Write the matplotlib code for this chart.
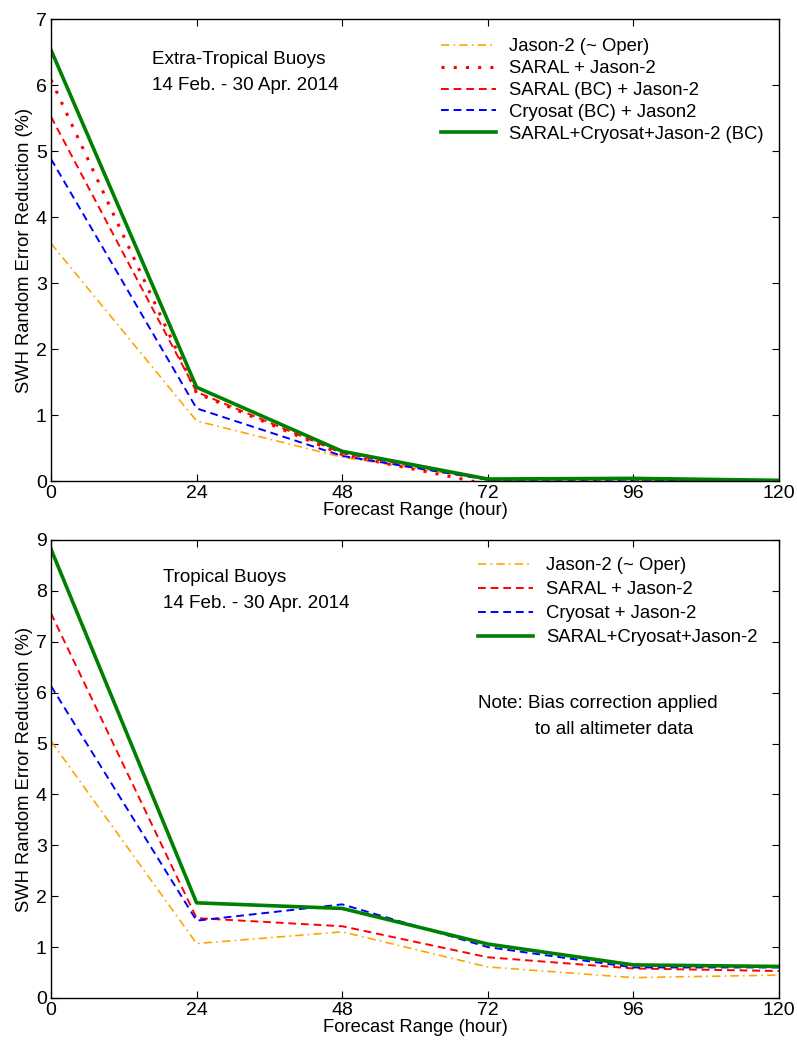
import matplotlib
matplotlib.use("Agg")
import matplotlib.pyplot as plt

plt.rcParams['font.family'] = ['Liberation Sans', 'DejaVu Sans']

hours = [0, 24, 48, 72, 96, 120]
xticks = [0, 24, 48, 72, 96, 120]

# Extra-tropical
et_jason2 = [3.6, 0.91, 0.36, 0.02, 0.02, 0.0]
et_saral_j2 = [6.08, 1.33, 0.40, -0.05, 0.02, 0.0]
et_saral_bc = [5.52, 1.35, 0.42, 0.02, 0.03, 0.0]
et_cryo_bc = [4.88, 1.10, 0.38, 0.02, 0.02, 0.0]
et_all_bc = [6.53, 1.42, 0.45, 0.03, 0.04, 0.01]

# Tropical
tr_jason2 = [5.05, 1.07, 1.30, 0.61, 0.40, 0.45]
tr_saral = [7.56, 1.57, 1.41, 0.80, 0.58, 0.53]
tr_cryo = [6.13, 1.52, 1.84, 1.00, 0.60, 0.60]
tr_all = [8.82, 1.87, 1.76, 1.06, 0.65, 0.62]

W, H = 797, 1040
fig = plt.figure(figsize=(W / 100, H / 100), dpi=100)
ax1 = fig.add_axes([51 / W, 1 - 481 / H, (779 - 51) / W, (481 - 19) / H])
ax2 = fig.add_axes([51 / W, 1 - 998 / H, (779 - 51) / W, (998 - 540) / H])

orange = '#FFA500'
red = '#FF0000'
blue = '#0000FF'
green = '#008000'
dash = (0, (4, 2.5))
dashdot = (0, (5, 2.5, 1, 2.5))
dot = (0, (1, 3))

ax1.plot(hours, et_jason2, color=orange, ls=dashdot, lw=1.2, label='Jason-2 (~ Oper)')
ax1.plot(hours, et_saral_j2, color=red, ls=dot, lw=2.2, label='SARAL + Jason-2')
ax1.plot(hours, et_saral_bc, color=red, ls=dash, lw=1.4, label='SARAL (BC) + Jason-2')
ax1.plot(hours, et_cryo_bc, color=blue, ls=dash, lw=1.4, label='Cryosat (BC) + Jason2')
ax1.plot(hours, et_all_bc, color=green, ls='-', lw=2.6, label='SARAL+Cryosat+Jason-2 (BC)')
ax1.set_ylim(0, 7)
ax1.set_yticks(range(0, 8))

ax2.plot(hours, tr_jason2, color=orange, ls=dashdot, lw=1.2, label='Jason-2 (~ Oper)')
ax2.plot(hours, tr_saral, color=red, ls=dash, lw=1.4, label='SARAL + Jason-2')
ax2.plot(hours, tr_cryo, color=blue, ls=dash, lw=1.4, label='Cryosat + Jason-2')
ax2.plot(hours, tr_all, color=green, ls='-', lw=2.6, label='SARAL+Cryosat+Jason-2')
ax2.set_ylim(0, 9)
ax2.set_yticks(range(0, 10))

for ax in (ax1, ax2):
    ax.set_xlim(0, 120)
    ax.set_xticks(xticks)
    ax.tick_params(direction='in', top=True, right=True, labelsize=14, length=5, width=0.8, pad=3)
    for s in ax.spines.values():
        s.set_linewidth(1.0)
    ax.set_xlabel('Forecast Range (hour)', fontsize=13.2, labelpad=0)
    ax.set_ylabel('SWH Random Error Reduction (%)', fontsize=13.2, labelpad=2)

leg1 = ax1.legend(loc='upper left', bbox_to_anchor=((442 - 51) / 728 - 0.012, 0.974), frameon=False,
                  fontsize=13.3, handlelength=3.0, handletextpad=0.7,
                  labelspacing=0.26, borderaxespad=0.0)
leg2 = ax2.legend(loc='upper left', bbox_to_anchor=((479 - 51) / 728 - 0.012, 0.979), frameon=False,
                  fontsize=13.3, handlelength=3.0, handletextpad=0.7,
                  labelspacing=0.38, borderaxespad=0.0)

def ftext(x, y, s, **kw):
    fig.text(x / W, 1 - y / H, s, va='center', ha='left', fontsize=13.6, **kw)

ftext(152, 60, 'Extra-Tropical Buoys')
ftext(152, 85, '14 Feb. - 30 Apr. 2014')
ftext(163, 578, 'Tropical Buoys')
ftext(163, 603, '14 Feb. - 30 Apr. 2014')
ftext(478, 704, 'Note: Bias correction applied')
ftext(535, 729, 'to all altimeter data')

fig.savefig('out.png', dpi=100)
